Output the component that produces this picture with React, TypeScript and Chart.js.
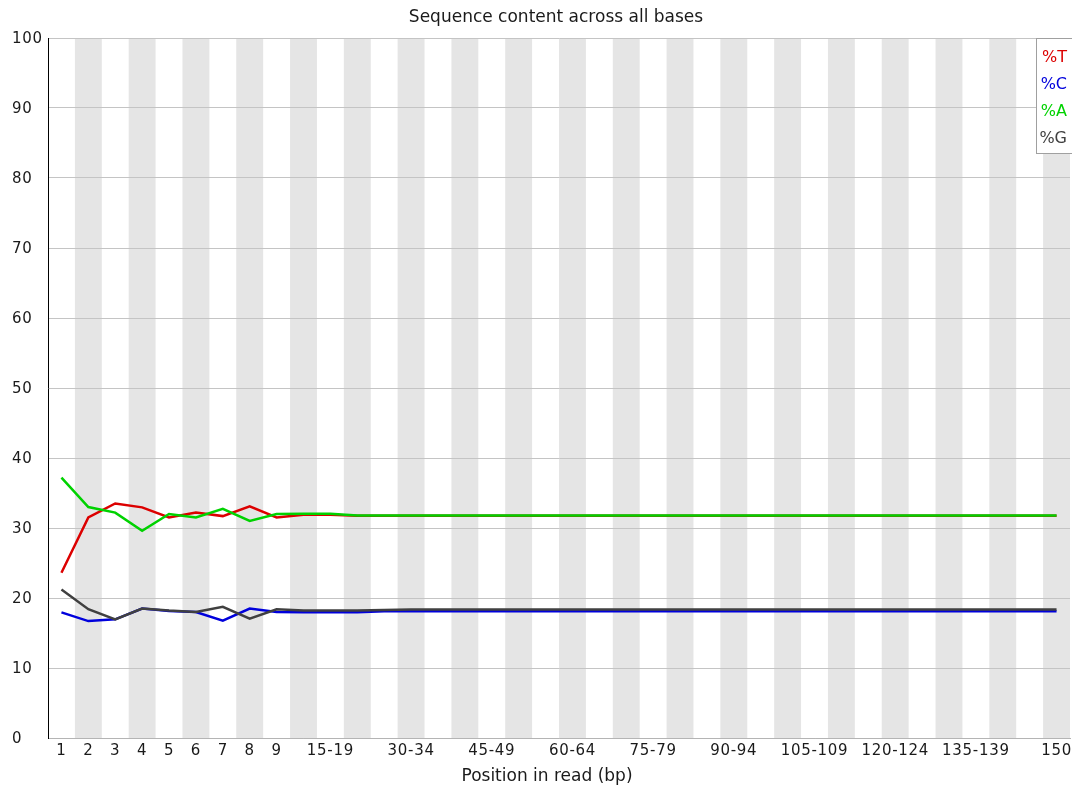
import React, { useEffect, useRef } from "react";
import { Chart, registerables } from "chart.js";

Chart.register(...registerables);

const categories: string[] = [
  "1", "2", "3", "4", "5", "6", "7", "8", "9",
  "10-14", "15-19", "20-24", "25-29", "30-34", "35-39", "40-44", "45-49",
  "50-54", "55-59", "60-64", "65-69", "70-74", "75-79", "80-84", "85-89",
  "90-94", "95-99", "100-104", "105-109", "110-114", "115-119", "120-124",
  "125-129", "130-134", "135-139", "140-144", "145-149", "150",
];

const shownTickLabels: string[] = [
  "1", "2", "3", "4", "5", "6", "7", "8", "9", "15-19", "30-34", "45-49",
  "60-64", "75-79", "90-94", "105-109", "120-124", "135-139", "150",
];

const pctT: number[] = [
  23.6, 31.5, 33.5, 32.95, 31.5, 32.2, 31.7, 33.1, 31.5,
  31.9, 31.9, 31.75, 31.75, 31.75, 31.75, 31.75, 31.75, 31.75, 31.75,
  31.75, 31.75, 31.75, 31.75, 31.75, 31.75, 31.75, 31.75, 31.75, 31.75,
  31.75, 31.75, 31.75, 31.75, 31.75, 31.75, 31.75, 31.75, 31.75,
];

const pctC: number[] = [
  17.95, 16.7, 16.95, 18.5, 18.15, 18.0, 16.75, 18.5, 18.0,
  17.95, 17.95, 17.95, 18.1, 18.1, 18.1, 18.1, 18.1, 18.1, 18.1,
  18.1, 18.1, 18.1, 18.1, 18.1, 18.1, 18.1, 18.1, 18.1, 18.1,
  18.1, 18.1, 18.1, 18.1, 18.1, 18.1, 18.1, 18.1, 18.1,
];

const pctA: number[] = [
  37.2, 33.0, 32.2, 29.6, 32.0, 31.5, 32.75, 31.0, 32.0,
  32.05, 32.05, 31.8, 31.8, 31.8, 31.8, 31.8, 31.8, 31.8, 31.8,
  31.8, 31.8, 31.8, 31.8, 31.8, 31.8, 31.8, 31.8, 31.8, 31.8,
  31.8, 31.8, 31.8, 31.8, 31.8, 31.8, 31.8, 31.8, 31.8,
];

const pctG: number[] = [
  21.2, 18.4, 16.95, 18.5, 18.2, 18.0, 18.75, 17.05, 18.4,
  18.2, 18.2, 18.2, 18.3, 18.35, 18.35, 18.35, 18.35, 18.35, 18.35,
  18.35, 18.35, 18.35, 18.35, 18.35, 18.35, 18.35, 18.35, 18.35, 18.35,
  18.35, 18.35, 18.35, 18.35, 18.35, 18.35, 18.35, 18.35, 18.35,
];

const seriesLabels = ["%T", "%C", "%A", "%G"];
const seriesColors = ["rgb(220,0,0)", "rgb(0,0,220)", "rgb(0,210,0)", "rgb(64,64,64)"];
const seriesOrder = [4, 3, 2, 1];

const chartTitle = "Sequence content across all bases";
const xAxisTitle = "Position in read (bp)";

const FONT = "'DejaVu Sans', sans-serif";

export default function App() {
  const canvasRef = useRef<HTMLCanvasElement | null>(null);

  useEffect(() => {
    document.body.style.margin = "0";
    const canvas = canvasRef.current;
    if (!canvas) return;

    const stripes = {
      id: "stripes",
      beforeDraw(chart: any) {
        const { ctx, chartArea, scales } = chart;
        const xs = scales.x;
        const w = (chartArea.right - chartArea.left) / categories.length;
        ctx.letterSpacing = "0.7px";
        ctx.save();
        ctx.fillStyle = "#ffffff";
        ctx.fillRect(0, 0, chart.width, chart.height);
        ctx.fillStyle = "#e5e5e5";
        for (let i = 0; i < categories.length; i++) {
          if (i % 2 === 1) {
            const cx = xs.getPixelForValue(i);
            ctx.fillRect(cx - w / 2, chartArea.top, w, chartArea.bottom - chartArea.top);
          }
        }
        ctx.restore();
      },
      afterDraw(chart: any) {
        const { ctx, chartArea } = chart;
        ctx.save();
        ctx.letterSpacing = "0px";
        ctx.font = `17px ${FONT}`;
        ctx.fillStyle = "#1a1a1a";
        ctx.textAlign = "center";
        ctx.textBaseline = "middle";
        ctx.fillText(chartTitle, (chartArea.left + chartArea.right) / 2 - 3, 18);
        ctx.fillText(xAxisTitle, 547, 777);

        // legend
        const lx = 1036.5;
        const ly = 38.5;
        const lw = 36;
        const lh = 115;
        ctx.fillStyle = "#ffffff";
        ctx.fillRect(lx, ly, lw, lh);
        ctx.strokeStyle = "#a0a0a0";
        ctx.lineWidth = 1;
        ctx.strokeRect(lx, ly, lw, lh);
        ctx.textAlign = "right";
        ctx.font = `16px ${FONT}`;
        chart.data.datasets.forEach((ds: any, i: number) => {
          ctx.fillStyle = ds.borderColor;
          ctx.fillText(ds.label, 1067, 58 + i * 26.8);
        });
        ctx.restore();
      },
    };

    const chart = new Chart(canvas, {
      type: "line",
      data: {
        labels: categories,
        datasets: seriesLabels.map((label, i) => ({
          label,
          data: [pctT, pctC, pctA, pctG][i],
          order: seriesOrder[i],
          borderColor: seriesColors[i],
          backgroundColor: seriesColors[i],
          borderWidth: 2.5,
          pointRadius: 0,
          pointHoverRadius: 0,
          tension: 0,
          fill: false,
        })),
      },
      options: {
        animation: false,
        responsive: true,
        maintainAspectRatio: false,
        layout: { padding: { top: 38, right: 2, left: 12, bottom: 0 } },
        plugins: {
          legend: { display: false },
          title: { display: false },
          tooltip: { enabled: false },
        },
        scales: {
          x: {
            type: "category",
            offset: true,
            grid: { display: false, drawTicks: false },
            border: { display: true, color: "#b4b4b4", width: 1 },
            ticks: {
              autoSkip: false,
              maxRotation: 0,
              minRotation: 0,
              padding: 4,
              color: "#1a1a1a",
              font: { family: FONT, size: 15 },
              callback: (_v: any, idx: number) =>
                shownTickLabels.includes(categories[idx]) ? categories[idx] : "",
            },
            afterFit: (s: any) => {
              s.height = 47;
              s.paddingLeft = 0;
              s.paddingRight = 0;
            },
          },
          y: {
            min: 0,
            max: 100,
            grid: { color: "#c4c4c4", lineWidth: 1, drawTicks: false },
            border: { display: true, color: "#000000", width: 1 },
            ticks: {
              stepSize: 10,
              padding: 0,
              crossAlign: "far",
              labelOffset: 1.5,
              color: "#1a1a1a",
              font: { family: FONT, size: 15 },
            },
            afterFit: (s: any) => {
              s.width = 36;
              s.paddingTop = 0;
              s.paddingBottom = 0;
            },
          },
        },
      },
      plugins: [stripes],
    });

    return () => chart.destroy();
  }, []);

  return (
    <div style={{ width: 1072, height: 785, position: "relative" }}>
      <canvas ref={canvasRef} />
    </div>
  );
}
